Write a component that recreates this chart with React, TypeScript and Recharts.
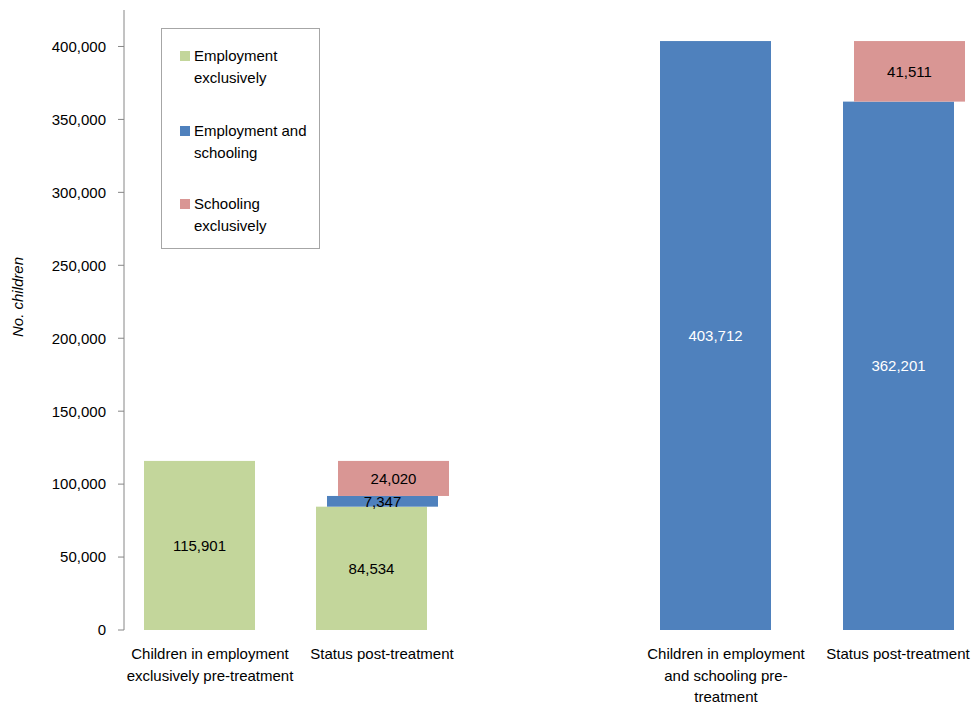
import React from "react";
import { BarChart, Bar, XAxis, YAxis, Legend } from "recharts";

// categories (the middle one is an empty spacer between the two groups)
const categories = ["pre1", "post1", "gap", "pre2", "post2"];
const tickLines = [
  ["Children in employment", "exclusively pre-treatment"],
  ["Status post-treatment"],
  [],
  ["Children in employment", "and schooling pre-", "treatment"],
  ["Status post-treatment"],
];

// series values
const preTreatment = [115901, null, null, 403712, null];
const employmentOnly = [null, 84534, null, null, null];
const employmentSchooling = [null, 7347, null, null, 362201];
const schoolingOnly = [null, 24020, null, null, 41511];

const yTicks = [0, 50000, 100000, 150000, 200000, 250000, 300000, 350000, 400000];

const legendItems = [
  { name: "Employment exclusively", color: "#c3d69b" },
  { name: "Employment and schooling", color: "#4f81bd" },
  { name: "Schooling exclusively", color: "#d99694" },
];

const GREEN = "#c3d69b";
const BLUE = "#4f81bd";
const RED = "#d99694";
const preColors = [GREEN, GREEN, GREEN, BLUE, BLUE];
const FONT = "'Liberation Sans', Arial, sans-serif";

const data = categories.map((cat, i) => ({
  cat,
  pre: preTreatment[i],
  empOnly: employmentOnly[i],
  empSchool: employmentSchooling[i],
  schoolOnly: schoolingOnly[i],
}));

// each segment is nudged sideways like in the original (excel overlap)
const makeShape = (key: string, dx: number, fixedColors?: string[]) => (props: any) => {
  const { x, y, width, height, payload, index } = props;
  const v = payload ? payload[key] : null;
  if (v == null || !height || height <= 0) return <g />;
  const fill = fixedColors ? fixedColors[index] : props.fill;
  const white = fill === BLUE && height > 30;
  return (
    <g>
      <rect x={x + dx} y={y} width={width} height={height} fill={fill} />
      <text
        x={x + dx + width / 2}
        y={y + height / 2}
        textAnchor="middle"
        dominantBaseline="central"
        fontSize={15}
        fontFamily={FONT}
        fill={white ? "#ffffff" : "#000000"}
      >
        {v.toLocaleString("en-US")}
      </text>
    </g>
  );
};

const CategoryTick = (props: any) => {
  const { x, y, index } = props;
  const lines = tickLines[index] || [];
  return (
    <text x={x} y={y + 29} textAnchor="middle" fontSize={15} fontFamily={FONT} fill="#000">
      {lines.map((l, i) => (
        <tspan key={i} x={x} dy={i === 0 ? 0 : 21.5}>
          {l}
        </tspan>
      ))}
    </text>
  );
};

const LegendBox = () => (
  <div
    style={{
      position: "relative",
      width: 159,
      height: 221,
      boxSizing: "border-box",
      border: "1px solid #a6a6a6",
      background: "#fff",
      fontFamily: FONT,
      fontSize: 15,
      color: "#000",
    }}
  >
    {legendItems.map((it, i) => {
      const top = [16, 91, 164][i];
      return (
        <div key={it.name} style={{ position: "absolute", left: 0, top, width: "100%" }}>
          <div
            style={{
              position: "absolute",
              left: 18,
              top: 6,
              width: 10,
              height: 10,
              background: it.color,
            }}
          />
          <div style={{ position: "absolute", left: 32, top: 0, width: 122, lineHeight: "21.5px" }}>
            {it.name}
          </div>
        </div>
      );
    })}
  </div>
);

export default function App() {
  return (
    <div
      style={{
        position: "absolute",
        left: 0,
        top: 0,
        width: 976,
        height: 706,
        overflow: "hidden",
        background: "#fff",
      }}
    >
      <BarChart
        width={984}
        height={706}
        data={data}
        barSize={111}
        margin={{ top: 10, right: 0, bottom: 0, left: 0 }}
        style={{ fontFamily: FONT }}
      >
        <XAxis
          dataKey="cat"
          height={76}
          interval={0}
          axisLine={false}
          tickLine={false}
          tickSize={0}
          tickMargin={0}
          tick={<CategoryTick />}
        />
        <YAxis
          width={124}
          domain={[0, 425000]}
          ticks={yTicks}
          interval={0}
          tickFormatter={(v: number) => v.toLocaleString("en-US")}
          axisLine={{ stroke: "#868686" }}
          tickLine={{ stroke: "#868686" }}
          tickSize={6}
          tickMargin={12}
          tick={{ fill: "#000", fontSize: 15, fontFamily: FONT }}
          label={{
            content: () => (
              <text
                x={23}
                y={297}
                transform="rotate(-90, 23, 297)"
                textAnchor="middle"
                fontSize={15}
                fontStyle="italic"
                fontFamily={FONT}
                fill="#000"
              >
                No. children
              </text>
            ),
          }}
        />
        <Legend
          layout="vertical"
          align="center"
          verticalAlign="middle"
          wrapperStyle={{ position: "absolute", left: 161, top: 28, width: 159, height: 221 }}
          content={() => <LegendBox />}
        />
        <Bar dataKey="pre" stackId="a" fill={GREEN} isAnimationActive={false} legendType="none"
          shape={makeShape("pre", -11, preColors)} />
        <Bar dataKey="empOnly" stackId="a" fill={GREEN} isAnimationActive={false}
          name="Employment exclusively" shape={makeShape("empOnly", -11)} />
        <Bar dataKey="empSchool" stackId="a" fill={BLUE} isAnimationActive={false}
          name="Employment and schooling" shape={makeShape("empSchool", 0)} />
        <Bar dataKey="schoolOnly" stackId="a" fill={RED} isAnimationActive={false}
          name="Schooling exclusively" shape={makeShape("schoolOnly", 11)} />
      </BarChart>
    </div>
  );
}
